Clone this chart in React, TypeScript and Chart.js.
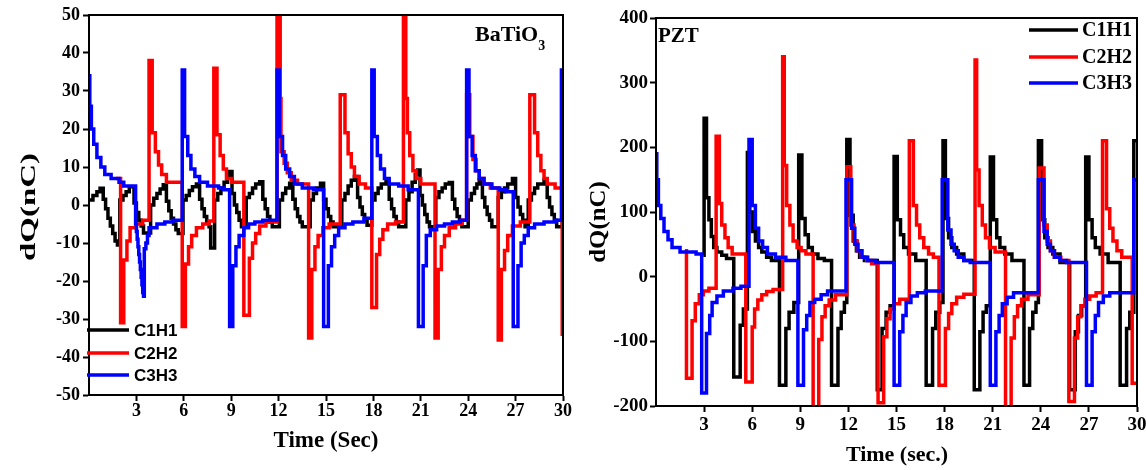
import React, { useEffect, useRef } from "react";
import { Chart, registerables } from "chart.js";

Chart.register(...registerables);

type Pt = [number, number];

const SERIES_LABELS = ["C1H1", "C2H2", "C3H3"];
const SERIES_COLORS = ["#000000", "#ff0000", "#0000ff"];
const TIME_TICKS = [3, 6, 9, 12, 15, 18, 21, 24, 27, 30];
const BT_Y_TICKS = [-50, -40, -30, -20, -10, 0, 10, 20, 30, 40, 50];
const PZT_Y_TICKS = [-200, -100, 0, 100, 200, 300, 400];

// BaTiO3 panel: [time (s), dQ (nC)] at each step change
const BT_C1H1: Pt[] = [
  [0, 1.3], [0.25, 2.5], [0.5, 3.5], [0.7, 4.4], [0.9, 1.5], [1.05, -1], [1.2, -3.5], [1.35, -5.5], [1.5, -7.5], [1.65, -9.5], [1.8, -10.5],
  [1.95, 1.3], [2.15, 2.5], [2.35, 3.5], [2.55, 4.8], [2.85, 0.5], [3.0, -2], [3.15, -4], [3.3, -5.5], [3.45, -7.4],
  [3.9, 0], [4.1, 1.8], [4.3, 3], [4.5, 4.2], [4.7, 5.3], [4.9, 1], [5.05, -1.5], [5.2, -3.5], [5.35, -5], [5.5, -6.5], [5.65, -7.5],
  [5.95, 1.3], [6.15, 2.5], [6.35, 3.8], [6.55, 4.8], [6.8, 5.5], [7.0, 1.5], [7.15, -1], [7.3, -3], [7.45, -4.5], [7.6, -5.7], [7.7, -11.3],
  [7.95, 1.3], [8.15, 3], [8.35, 4.5], [8.55, 6], [8.75, 7.5], [8.9, 8.8], [9.05, 3], [9.2, 0], [9.35, -2], [9.5, -4], [9.65, -5.7],
  [9.95, 2], [10.15, 3], [10.35, 4.5], [10.55, 5.5], [10.8, 6.1], [11.0, 1.5], [11.15, -1], [11.3, -3], [11.45, -4.5], [11.6, -5.7],
  [12.05, 1.3], [12.25, 3], [12.45, 4.5], [12.7, 5.7], [12.9, 1.5], [13.05, -1], [13.2, -3], [13.35, -4.5], [13.5, -5.7],
  [14.0, 1.3], [14.2, 3], [14.4, 4.5], [14.65, 5.7], [14.85, 1.5], [15.0, -1], [15.15, -3], [15.3, -4.5], [15.45, -5.7],
  [16.0, 1.3], [16.2, 3], [16.4, 5], [16.6, 6.5], [16.8, 7.5], [17.0, 2], [17.15, -0.5], [17.3, -2.5], [17.45, -4], [17.6, -5.3],
  [17.9, 1.3], [18.1, 3], [18.3, 4.5], [18.5, 5.5], [18.8, 6.1], [19.0, 1.5], [19.15, -1], [19.3, -3], [19.45, -4.5], [19.6, -5.7],
  [20.05, 1.3], [20.25, 3.5], [20.45, 6], [20.65, 8], [20.8, 9.2], [20.95, 2.5], [21.1, 0], [21.25, -2.5], [21.4, -4.5], [21.55, -5.7],
  [21.95, 2], [22.15, 3.5], [22.35, 4.5], [22.55, 5.5], [22.8, 5.9], [23.0, 1.5], [23.15, -1], [23.3, -3], [23.45, -4.5], [23.6, -5.7],
  [24.0, 1.3], [24.2, 3], [24.4, 4.5], [24.55, 5.5], [24.7, 6.6], [24.9, 2], [25.05, -0.5], [25.2, -2.5], [25.35, -4], [25.5, -5.7],
  [25.9, 2], [26.1, 3.5], [26.3, 4.5], [26.5, 5.5], [26.8, 7], [27.0, 2], [27.15, -0.5], [27.3, -2.5], [27.45, -4], [27.6, -5.7],
  [27.8, 1.3], [28.0, 3], [28.2, 4.5], [28.4, 5.5], [28.8, 6.6], [29.0, 2], [29.15, -0.5], [29.3, -2.5], [29.45, -4], [29.6, -5.7],
  [29.95, 1], [30.1, 1],
];

const BT_C2H2: Pt[] = [
  [1.7, 7], [2.0, -31], [2.2, -14.5], [2.4, -9.5], [2.6, -6], [3.0, -5], [3.4, -4],
  [3.8, 38], [4.0, 19], [4.2, 14], [4.4, 10.5], [4.6, 8], [4.9, 6],
  [5.9, -32], [6.1, -15.5], [6.3, -11], [6.5, -8], [6.8, -6], [7.2, -5], [7.6, -4.2],
  [7.9, 36], [8.1, 18.5], [8.3, 13], [8.5, 9.5], [8.7, 7], [9.0, 6],
  [9.8, -29], [10.15, -14], [10.35, -10], [10.55, -7.5], [10.8, -5.5], [11.2, -4.5],
  [11.9, 52], [12.1, 28], [12.15, 14], [12.35, 11], [12.55, 8.5], [12.8, 6.5], [13.2, 5.5],
  [13.9, -35], [14.1, -17], [14.3, -11], [14.5, -8], [14.8, -6], [15.2, -5],
  [15.9, 29], [16.2, 19], [16.4, 13.5], [16.6, 10], [16.8, 7.5], [17.1, 5.5], [17.5, 4.5],
  [17.9, -27], [18.2, -13], [18.4, -9], [18.6, -6.5], [18.9, -5], [19.4, -4.5],
  [19.9, 52], [20.05, 28], [20.15, 19], [20.3, 13], [20.5, 9], [20.7, 7], [21.0, 5.5],
  [21.9, -35], [22.1, -17], [22.3, -11], [22.5, -8], [22.8, -6], [23.2, -5], [23.6, -4],
  [23.9, 29], [24.1, 18], [24.3, 12], [24.5, 9], [24.7, 7], [25.0, 5.5], [25.4, 4.5],
  [25.9, -35.5], [26.1, -17], [26.3, -12], [26.5, -8], [26.8, -5.5], [27.3, -4.5],
  [27.9, 29], [28.2, 19], [28.4, 13], [28.6, 9], [28.8, 7], [29.0, 5.5], [29.5, 4.5],
  [29.95, -34], [30.1, -34],
];

const BT_C3H3: Pt[] = [
  [0, 34], [0.05, 26], [0.15, 20], [0.3, 16], [0.5, 12.5], [0.75, 10], [1.0, 8], [1.4, 7], [1.9, 6], [2.2, 5],
  [2.95, -5], [3.0, -7], [3.05, -9], [3.1, -11], [3.15, -13], [3.2, -15], [3.25, -17], [3.3, -19], [3.35, -21], [3.4, -23], [3.45, -24],
  [3.5, -11.5], [3.6, -10], [3.7, -8], [3.8, -6], [4.3, -5], [4.8, -4.5], [5.3, -4],
  [5.9, 35.5], [6.05, 18], [6.25, 13], [6.45, 9.5], [6.7, 7.5], [7.0, 6], [7.5, 5], [8.2, 4.5], [8.5, 4],
  [8.9, -32], [9.1, -16], [9.3, -11], [9.5, -8], [9.8, -6], [10.1, -5], [10.5, -4.5], [11.0, -4],
  [11.9, 35.5], [12.05, 18], [12.25, 13], [12.45, 9.5], [12.7, 7.5], [13.0, 5.5], [13.5, 4.5], [14.2, 4],
  [14.85, -32], [15.15, -16], [15.35, -11], [15.55, -8], [15.8, -6], [16.2, -5], [16.7, -4.5], [17.4, -3.5],
  [17.9, 35.5], [18.05, 18], [18.25, 13], [18.45, 9.5], [18.7, 7], [19.0, 5.5], [19.6, 5], [20.2, 4],
  [20.85, -32], [21.15, -16], [21.35, -8], [21.6, -6.5], [22.0, -5.5], [22.5, -5], [23.0, -4.5], [23.5, -4],
  [23.9, 35.5], [24.05, 18], [24.25, 13], [24.45, 9], [24.7, 7], [25.0, 5.5], [25.5, 4.5], [26.0, 4], [26.4, 3.5],
  [26.85, -32], [27.15, -16], [27.35, -10], [27.55, -8], [27.8, -6], [28.2, -5], [28.8, -4.5], [29.5, -4],
  [29.9, 35.5], [30.1, 35.5],
];

// PZT panel
const PZT_C1H1: Pt[] = [
  [2.95, 33], [3.0, 245], [3.15, 122], [3.3, 88], [3.45, 62], [3.6, 45], [3.8, 38], [4.1, 33], [4.4, 28],
  [4.85, -155], [5.25, -75], [5.45, -50],
  [5.7, 192], [5.85, 100], [6.0, 70], [6.2, 55], [6.4, 45], [6.6, 38], [6.9, 30], [7.2, 25],
  [7.7, -168], [8.1, -80], [8.3, -55], [8.6, -40],
  [8.9, 188], [9.1, 90], [9.3, 65], [9.5, 45], [9.75, 35], [10.1, 28], [10.5, 25],
  [10.95, -168], [11.35, -80], [11.55, -55], [11.75, -40],
  [11.9, 212], [12.1, 95], [12.3, 55], [12.5, 40], [12.7, 30], [13.0, 25],
  [13.8, -175], [14.1, -80], [14.35, -55], [14.6, -45],
  [14.85, 186], [15.05, 88], [15.25, 65], [15.45, 45], [15.75, 35], [16.2, 25],
  [16.85, -168], [17.25, -80], [17.45, -55], [17.7, -40],
  [17.9, 210], [18.05, 90], [18.25, 60], [18.45, 45], [18.75, 35], [19.2, 25],
  [19.85, -175], [20.2, -85], [20.4, -55], [20.6, -45],
  [20.85, 185], [21.05, 88], [21.25, 60], [21.45, 45], [21.75, 35], [22.2, 25],
  [22.95, -168], [23.3, -80], [23.5, -55], [23.7, -40],
  [23.85, 210], [24.05, 88], [24.25, 60], [24.45, 45], [24.75, 35], [25.2, 22],
  [25.8, -175], [26.15, -85], [26.35, -60], [26.55, -45],
  [26.8, 185], [27.0, 88], [27.2, 60], [27.4, 45], [27.7, 35], [28.2, 22],
  [28.95, -168], [29.35, -80], [29.55, -55],
  [29.8, 210], [30.1, 210],
];

const PZT_C2H2: Pt[] = [
  [1.8, 40], [1.9, -157], [2.25, -68], [2.45, -42], [2.7, -28], [2.95, -22], [3.3, -18],
  [3.75, 217], [3.95, 113], [4.1, 80], [4.3, 60], [4.5, 45], [4.75, 35],
  [5.6, -163], [6.0, -78], [6.15, -50], [6.35, -36], [6.6, -28], [6.9, -23], [7.3, -20],
  [7.9, 340], [8.0, 172], [8.15, 110], [8.35, 80], [8.55, 55], [8.8, 45], [9.05, 40], [9.35, 35],
  [9.8, -205], [10.15, -97], [10.35, -62], [10.55, -45], [10.8, -36], [11.2, -28],
  [11.9, 170], [12.15, 80], [12.35, 55], [12.55, 40], [12.8, 30], [13.15, 25], [13.45, 20],
  [13.85, -195], [14.2, -93], [14.4, -65], [14.6, -50], [14.85, -42], [15.2, -35],
  [15.8, 210], [16.05, 110], [16.25, 80], [16.45, 60], [16.7, 45], [17.0, 35], [17.3, 30],
  [17.65, -168], [18.05, -80], [18.25, -57], [18.45, -42], [18.75, -32], [19.2, -27],
  [19.9, 335], [20.0, 165], [20.15, 110], [20.35, 80], [20.55, 60], [20.8, 45], [21.15, 38],
  [21.8, -205], [22.15, -95], [22.35, -62], [22.55, -45], [22.8, -35], [23.2, -28],
  [23.9, 168], [24.2, 80], [24.4, 55], [24.6, 40], [24.85, 30], [25.25, 25],
  [25.75, -193], [26.1, -95], [26.3, -62], [26.5, -45], [26.75, -35], [27.05, -30], [27.45, -25],
  [27.85, 210], [28.1, 105], [28.3, 75], [28.5, 55], [28.75, 40], [29.05, 30],
  [29.7, -165], [30.1, -165],
];

const PZT_C3H3: Pt[] = [
  [0, 190], [0.05, 150], [0.15, 110], [0.3, 90], [0.5, 70], [0.75, 57], [1.0, 45], [1.5, 38], [2.5, 35],
  [2.85, -180], [3.15, -88], [3.35, -60], [3.5, -40], [3.8, -30], [4.2, -22], [4.8, -18], [5.3, -15],
  [5.8, 212], [6.0, 110], [6.2, 75], [6.4, 55], [6.65, 45], [6.95, 35], [7.45, 30], [8.1, 25],
  [8.85, -168], [9.2, -82], [9.4, -60], [9.6, -40], [9.9, -35], [10.3, -28], [10.7, -22],
  [11.85, 150], [12.2, 75], [12.4, 50], [12.6, 40], [12.85, 30], [13.2, 25], [13.7, 22],
  [14.85, -168], [15.2, -85], [15.4, -60], [15.6, -40], [15.9, -30], [16.3, -25], [16.8, -22],
  [17.85, 150], [18.2, 72], [18.4, 50], [18.6, 40], [18.85, 30], [19.2, 25], [19.6, 22],
  [20.85, -168], [21.2, -85], [21.4, -60], [21.6, -42], [21.9, -32], [22.3, -25],
  [23.85, 150], [24.2, 70], [24.4, 50], [24.6, 40], [24.85, 30], [25.2, 25], [25.6, 22],
  [26.85, -168], [27.2, -85], [27.4, -60], [27.6, -40], [27.9, -30], [28.3, -25],
  [29.8, 150], [30.1, 150],
];

const SERIF = '"Liberation Serif", "Times New Roman", serif';
const SANS = '"Liberation Sans", Arial, sans-serif';
const LINE_W = 3.5;

interface Panel {
  left: number;
  width: number;
  height: number;
  plot: { left: number; right: number; top: number; bottom: number };
  series: Pt[][];
  yMin: number;
  yMax: number;
  yTicks: number[];
  tickSize: number;
  xTickPad: number;
  yTickPad: number;
  xTitle: { text: string; x: number; y: number; size: number };
  yTitle: { text: string; x: number; y: number; size: number; stretch: number };
  legend: { x1: number; x2: number; ys: number[]; textX: number; font: string };
  drawLabel: (ctx: CanvasRenderingContext2D) => void;
}

const PANELS: Panel[] = [
  {
    left: 0,
    width: 575,
    height: 470,
    plot: { left: 89, right: 563, top: 15, bottom: 395 },
    series: [BT_C1H1, BT_C2H2, BT_C3H3],
    yMin: -50,
    yMax: 50,
    yTicks: BT_Y_TICKS,
    tickSize: 18,
    xTickPad: 0,
    yTickPad: 3,
    xTitle: { text: "Time (Sec)", x: 326, y: 441, size: 23 },
    yTitle: { text: "dQ(nC)", x: 29, y: 207, size: 22, stretch: 1.5 },
    legend: { x1: 87, x2: 129, ys: [330, 353, 375], textX: 134, font: `bold 17px ${SANS}` },
    drawLabel: (ctx) => {
      ctx.fillStyle = "#000";
      ctx.textAlign = "left";
      ctx.textBaseline = "alphabetic";
      ctx.font = `bold 22px ${SERIF}`;
      ctx.fillText("BaTiO", 475, 41);
      const w = ctx.measureText("BaTiO").width;
      ctx.font = `bold 14px ${SERIF}`;
      ctx.fillText("3", 475 + w, 50);
    },
  },
  {
    left: 575,
    width: 571,
    height: 470,
    plot: { left: 81, right: 562, top: 18, bottom: 406 },
    series: [PZT_C1H1, PZT_C2H2, PZT_C3H3],
    yMin: -200,
    yMax: 400,
    yTicks: PZT_Y_TICKS,
    tickSize: 19,
    xTickPad: 2,
    yTickPad: 2,
    xTitle: { text: "Time (sec.)", x: 322, y: 455, size: 22 },
    yTitle: { text: "dQ(nC)", x: 24, y: 222, size: 23, stretch: 1.08 },
    legend: { x1: 454, x2: 503, ys: [30, 57, 83], textX: 507, font: `bold 20px ${SERIF}` },
    drawLabel: (ctx) => {
      ctx.fillStyle = "#000";
      ctx.textAlign = "left";
      ctx.textBaseline = "alphabetic";
      ctx.font = `bold 21px ${SERIF}`;
      ctx.fillText("PZT", 83, 42);
    },
  },
];

function PanelChart({ p }: { p: Panel }) {
  const ref = useRef<HTMLCanvasElement | null>(null);

  useEffect(() => {
    const canvas = ref.current;
    if (!canvas) return;
    const tickFont = { family: SERIF, weight: "bold" as const, size: p.tickSize };
    const grid = {
      display: true,
      drawOnChartArea: false,
      drawTicks: true,
      tickLength: 6,
      tickWidth: 2,
      tickColor: "#000",
    };
    const border = { display: true, color: "#000", width: 2 };

    const decor = {
      id: "decor",
      afterDraw(chart: any) {
        const ctx: CanvasRenderingContext2D = chart.ctx;
        const a = chart.chartArea;
        ctx.save();
        ctx.strokeStyle = "#000";
        ctx.lineWidth = 2;
        ctx.strokeRect(a.left, a.top, a.right - a.left, a.bottom - a.top);
        p.legend.ys.forEach((y, i) => {
          ctx.strokeStyle = SERIES_COLORS[i];
          ctx.lineWidth = LINE_W;
          ctx.beginPath();
          ctx.moveTo(p.legend.x1, y);
          ctx.lineTo(p.legend.x2, y);
          ctx.stroke();
          ctx.fillStyle = "#000";
          ctx.font = p.legend.font;
          ctx.textAlign = "left";
          ctx.textBaseline = "middle";
          ctx.fillText(SERIES_LABELS[i], p.legend.textX, y + 1);
        });
        p.drawLabel(ctx);
        ctx.fillStyle = "#000";
        ctx.textAlign = "center";
        ctx.textBaseline = "middle";
        ctx.font = `bold ${p.xTitle.size}px ${SERIF}`;
        ctx.fillText(p.xTitle.text, p.xTitle.x, p.xTitle.y);
        ctx.save();
        ctx.translate(p.yTitle.x, p.yTitle.y);
        ctx.rotate(-Math.PI / 2);
        ctx.scale(p.yTitle.stretch, 1);
        ctx.font = `bold ${p.yTitle.size}px ${SERIF}`;
        ctx.fillText(p.yTitle.text, 0, 0);
        ctx.restore();
        ctx.restore();
      },
    };

    const chart = new Chart(canvas, {
      type: "line",
      data: {
        datasets: p.series.map((s, i) => ({
          label: SERIES_LABELS[i],
          data: s.map(([x, y]) => ({ x, y })),
          borderColor: SERIES_COLORS[i],
          backgroundColor: SERIES_COLORS[i],
          borderWidth: LINE_W,
          pointRadius: 0,
          stepped: true,
          tension: 0,
          fill: false,
          order: 2 - i,
        })),
      },
      options: {
        responsive: false,
        animation: false,
        events: [],
        layout: {
          padding: {
            left: 0,
            top: p.plot.top,
            right: p.width - p.plot.right,
            bottom: 0,
          },
        },
        plugins: {
          legend: { display: false },
          tooltip: { enabled: false },
          title: { display: false },
        },
        scales: {
          x: {
            type: "linear",
            min: 0,
            max: 30,
            afterBuildTicks: (s: any) => {
              s.ticks = TIME_TICKS.map((v) => ({ value: v }));
            },
            afterFit: (s: any) => {
              s.height = p.height - p.plot.bottom;
              s.paddingLeft = 0;
              s.paddingRight = 0;
            },
            ticks: {
              font: tickFont,
              color: "#000",
              padding: p.xTickPad,
              maxRotation: 0,
              autoSkip: false,
              callback: (v: any) => String(v),
            },
            grid,
            border,
          },
          y: {
            type: "linear",
            min: p.yMin,
            max: p.yMax,
            afterBuildTicks: (s: any) => {
              s.ticks = p.yTicks.map((v) => ({ value: v }));
            },
            afterFit: (s: any) => {
              s.width = p.plot.left;
              s.paddingTop = 0;
              s.paddingBottom = 0;
            },
            ticks: {
              font: tickFont,
              color: "#000",
              padding: p.yTickPad,
              autoSkip: false,
              callback: (v: any) => String(v),
            },
            grid,
            border,
          },
        },
      },
      plugins: [decor],
    });
    return () => chart.destroy();
  }, [p]);

  return (
    <canvas
      ref={ref}
      width={p.width}
      height={p.height}
      style={{ position: "absolute", left: p.left, top: 0, width: p.width, height: p.height, display: "block" }}
    />
  );
}

export default function App() {
  return (
    <div style={{ position: "absolute", left: 0, top: 0, width: 1146, height: 470, background: "#fff", overflow: "hidden" }}>
      {PANELS.map((p, i) => (
        <PanelChart key={i} p={p} />
      ))}
    </div>
  );
}
